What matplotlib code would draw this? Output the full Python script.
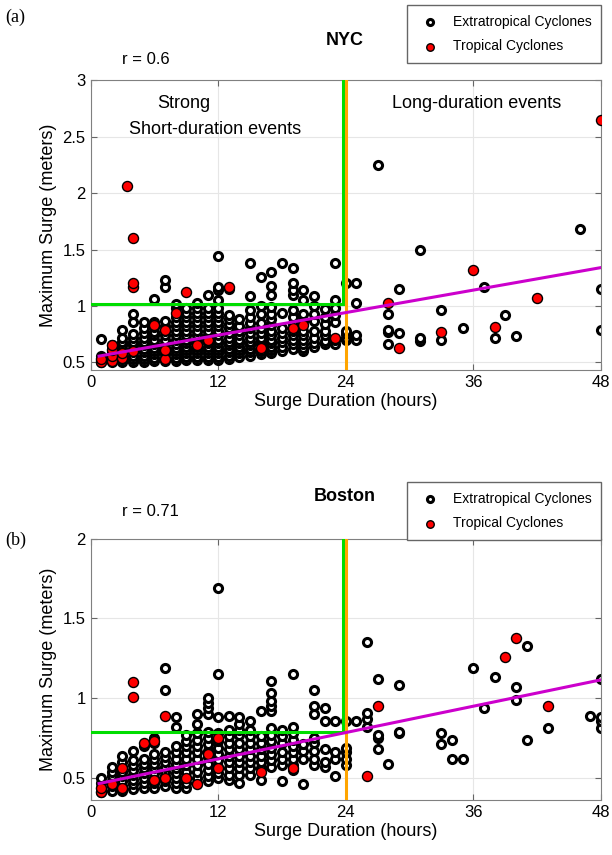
import matplotlib.pyplot as plt

plt.rcParams['font.family'] = ['Liberation Sans', 'DejaVu Sans']

# NYC: surge duration (hours) -> maximum surge (m)
nyc_etc = {
    1: [0.50, 0.52, 0.54, 0.56, 0.71],
    2: [0.50, 0.53, 0.56, 0.59, 0.62, 0.65],
    3: [0.50, 0.53, 0.56, 0.59, 0.62, 0.65, 0.68, 0.72, 0.79],
    4: [0.50, 0.53, 0.56, 0.59, 0.62, 0.65, 0.68, 0.72, 0.75, 0.86, 0.93],
    5: [0.50, 0.53, 0.56, 0.59, 0.62, 0.65, 0.68, 0.72, 0.76, 0.80, 0.86],
    6: [0.51, 0.54, 0.57, 0.60, 0.63, 0.66, 0.70, 0.74, 0.77, 0.81, 0.86, 1.06],
    7: [0.51, 0.54, 0.57, 0.60, 0.63, 0.66, 0.70, 0.74, 0.78, 0.82, 0.87, 1.17, 1.23],
    8: [0.51, 0.54, 0.57, 0.60, 0.63, 0.66, 0.70, 0.74, 0.78, 0.82, 0.86, 0.90, 0.98, 1.02],
    9: [0.52, 0.55, 0.58, 0.61, 0.64, 0.67, 0.70, 0.74, 0.78, 0.82, 0.86, 0.90, 0.94, 0.98],
    10: [0.52, 0.55, 0.58, 0.61, 0.64, 0.67, 0.70, 0.74, 0.78, 0.82, 0.86, 0.90, 0.94, 0.98, 1.03],
    11: [0.52, 0.55, 0.58, 0.61, 0.64, 0.67, 0.70, 0.74, 0.78, 0.82, 0.86, 0.90, 0.94, 0.98, 1.10],
    12: [0.52, 0.55, 0.58, 0.61, 0.64, 0.67, 0.70, 0.74, 0.78, 0.82, 0.86, 0.90, 0.94, 0.98,
         1.05, 1.14, 1.17, 1.44],
    13: [0.53, 0.56, 0.59, 0.62, 0.65, 0.68, 0.72, 0.76, 0.80, 0.84, 0.88, 0.92, 1.15],
    14: [0.55, 0.58, 0.61, 0.64, 0.67, 0.70, 0.74, 0.78, 0.82, 0.88],
    15: [0.56, 0.59, 0.62, 0.65, 0.68, 0.72, 0.76, 0.80, 0.85, 0.90, 0.96, 1.09, 1.38],
    16: [0.57, 0.60, 0.66, 0.69, 0.72, 0.76, 0.80, 0.85, 0.93, 1.00, 1.26],
    17: [0.58, 0.61, 0.64, 0.67, 0.70, 0.74, 0.78, 0.83, 0.88, 0.93, 0.99, 1.10, 1.18, 1.30],
    18: [0.60, 0.64, 0.68, 0.72, 0.76, 0.80, 0.94, 1.38],
    19: [0.62, 0.66, 0.70, 0.74, 0.78, 0.84, 0.90, 0.96, 1.10, 1.14, 1.20, 1.34],
    20: [0.60, 0.63, 0.66, 0.70, 0.74, 0.78, 0.87, 0.93, 1.05, 1.14],
    21: [0.64, 0.67, 0.72, 0.78, 0.87, 0.93, 1.00, 1.09],
    22: [0.66, 0.69, 0.74, 0.78, 0.84, 0.90, 0.97],
    23: [0.66, 0.70, 0.86, 0.92, 0.98, 1.05, 1.38],
    24: [0.70, 0.72, 0.75, 0.78, 1.20],
    25: [0.70, 0.74, 1.03, 1.20],
    27: [2.25],
    28: [0.66, 0.77, 0.79, 0.93],
    29: [0.76, 1.15],
    31: [0.69, 0.72, 1.50],
    33: [0.70, 0.96],
    35: [0.80],
    37: [1.17],
    38: [0.72],
    39: [0.92],
    40: [0.73],
    46: [1.68],
    48: [0.79, 1.15],
}
nyc_tc = {
    1: [0.50, 0.53],
    2: [0.51, 0.56, 0.61, 0.65],
    3: [0.54, 0.58],
    3.4: [2.06],
    4: [0.60, 1.17, 1.20, 1.60],
    6: [0.83],
    7: [0.53, 0.61, 0.79],
    8: [0.94],
    9: [1.12],
    10: [0.65],
    11: [0.70],
    13: [1.17],
    16: [0.63],
    19: [0.80],
    20: [0.83],
    23: [0.72],
    28: [1.03],
    29: [0.63],
    33: [0.77],
    36: [1.32],
    38: [0.81],
    42: [1.07],
    48: [2.65],
}
nyc_fit_hours = [0.8, 48]
nyc_fit_surge = [0.555, 1.34]
nyc_strong_surge = 1.02

# Boston
bos_etc = {
    1: [0.41, 0.44, 0.47, 0.50],
    2: [0.42, 0.45, 0.48, 0.51, 0.54, 0.57],
    3: [0.42, 0.45, 0.48, 0.51, 0.54, 0.57, 0.60, 0.64],
    4: [0.43, 0.46, 0.49, 0.52, 0.55, 0.58, 0.61, 0.67],
    5: [0.44, 0.47, 0.50, 0.53, 0.56, 0.59, 0.62, 0.70],
    6: [0.44, 0.47, 0.50, 0.53, 0.56, 0.59, 0.62, 0.65, 0.72, 0.75],
    7: [0.45, 0.48, 0.51, 0.54, 0.57, 0.60, 0.63, 0.66, 1.05, 1.19],
    8: [0.44, 0.47, 0.50, 0.53, 0.56, 0.59, 0.62, 0.66, 0.70, 0.82, 0.88],
    9: [0.44, 0.47, 0.50, 0.54, 0.58, 0.62, 0.66, 0.70, 0.73, 0.77],
    10: [0.47, 0.50, 0.54, 0.58, 0.62, 0.66, 0.70, 0.74, 0.78, 0.84, 0.90],
    11: [0.48, 0.51, 0.55, 0.59, 0.63, 0.67, 0.71, 0.75, 0.79, 0.90, 0.94, 0.97, 1.00],
    12: [0.50, 0.53, 0.57, 0.61, 0.65, 0.69, 0.73, 0.78, 0.88, 1.15, 1.69],
    13: [0.49, 0.52, 0.56, 0.60, 0.64, 0.68, 0.72, 0.76, 0.80, 0.89],
    14: [0.47, 0.52, 0.56, 0.60, 0.64, 0.68, 0.72, 0.77, 0.80, 0.84, 0.88],
    15: [0.52, 0.56, 0.60, 0.64, 0.68, 0.72, 0.76, 0.80, 0.86],
    16: [0.49, 0.56, 0.60, 0.64, 0.68, 0.72, 0.76, 0.92],
    17: [0.57, 0.61, 0.65, 0.69, 0.73, 0.77, 0.81, 0.92, 0.95, 0.98, 1.03, 1.11],
    18: [0.48, 0.58, 0.62, 0.66, 0.72, 0.76, 0.80],
    19: [0.55, 0.58, 0.62, 0.66, 0.70, 0.74, 0.78, 0.82, 1.15],
    20: [0.46, 0.62, 0.67, 0.71],
    21: [0.58, 0.62, 0.67, 0.72, 0.75, 0.90, 0.95, 1.05],
    22: [0.57, 0.60, 0.68, 0.86, 0.94],
    23: [0.51, 0.62, 0.66, 0.86],
    24: [0.58, 0.62, 0.66, 0.69, 0.86],
    25: [0.86],
    26: [0.82, 0.87, 0.91, 1.35],
    27: [0.68, 0.75, 0.77, 1.12],
    28: [0.59],
    29: [0.78, 0.79, 1.08],
    33: [0.71, 0.78],
    34: [0.62, 0.74],
    35: [0.62],
    36: [1.19],
    37: [0.94],
    38: [1.13],
    40: [0.99, 1.07],
    41: [0.74, 1.33],
    43: [0.81],
    47: [0.89],
    48: [0.81, 0.86, 0.88, 1.12],
}
bos_tc = {
    1: [0.41, 0.44],
    2: [0.46],
    3: [0.44, 0.56],
    4: [1.01, 1.10],
    5: [0.72],
    6: [0.49, 0.73],
    7: [0.50, 0.89],
    9: [0.50],
    10: [0.46],
    11: [0.65],
    12: [0.56, 0.75],
    16: [0.54],
    19: [0.56],
    26: [0.51],
    27: [0.95],
    39: [1.26],
    40: [1.38],
    43: [0.95],
}
bos_fit_hours = [0.8, 48]
bos_fit_surge = [0.465, 1.115]
bos_strong_surge = 0.79

long_duration = 24


def flat(d):
    xs = [h for h, vals in d.items() for v in vals]
    ys = [v for h, vals in d.items() for v in vals]
    return xs, ys


def panel(ax, etc, tc, fit_h, fit_s, strong, ylim, yticks, ylabels):
    ax.grid(True, color='0.9', linewidth=0.8, zorder=0)
    ex, ey = flat(etc)
    tx, ty = flat(tc)
    ax.scatter(ex, ey, s=34, facecolors='white', edgecolors='black',
               linewidths=2.2, zorder=2, label='Extratropical Cyclones')
    ax.scatter(tx, ty, s=52, facecolors='red', edgecolors='black',
               linewidths=1.0, zorder=3, label='Tropical Cyclones')
    ax.plot([0, long_duration - 0.3], [strong, strong], color='#00dd00', lw=2.2, zorder=4)
    ax.plot([long_duration - 0.3] * 2, [strong, ylim[1]], color='#00dd00', lw=2.2, zorder=4)
    ax.axvline(long_duration, color='#ffa500', lw=2.2, zorder=4)
    ax.plot(fit_h, fit_s, color='#cc00cc', lw=2.2, zorder=5)
    ax.set_xlim(0, 48)
    ax.set_ylim(*ylim)
    ax.set_xticks([0, 12, 24, 36, 48])
    ax.set_yticks(yticks)
    ax.set_yticklabels(ylabels)
    ax.tick_params(direction='in', top=True, right=True, labelsize=12,
                   color='0.4', length=4)
    for sp in ax.spines.values():
        sp.set_color('0.5')
    ax.set_xlabel('Surge Duration (hours)', fontsize=13, labelpad=2)
    ax.set_ylabel('Maximum Surge (meters)', fontsize=13, labelpad=4)


def add_legend(ax, top):
    ax.legend(loc='upper right', bbox_to_anchor=(0.982, top), bbox_transform=fig.transFigure,
              borderaxespad=0, fontsize=10, frameon=True, fancybox=False, edgecolor='0.4',
              framealpha=1, handletextpad=0.6, borderpad=0.7, labelspacing=0.75,
              markerscale=0.75)


fig = plt.figure(figsize=(6.12, 8.55), dpi=100)

ax1 = fig.add_axes([0.148, 0.567, 0.834, 0.339])
panel(ax1, nyc_etc, nyc_tc, nyc_fit_hours, nyc_fit_surge, nyc_strong_surge,
      (0.43, 3), [0.5, 1, 1.5, 2, 2.5, 3], ['0.5', '1', '1.5', '2', '2.5', '3'])
ax1.text(0.182, 0.92, 'Strong', transform=ax1.transAxes, ha='center', va='center', fontsize=13)
ax1.text(0.243, 0.83, 'Short-duration events', transform=ax1.transAxes, ha='center',
         va='center', fontsize=13)
ax1.text(0.757, 0.92, 'Long-duration events', transform=ax1.transAxes, ha='center',
         va='center', fontsize=13)
fig.text(0.564, 0.953, 'NYC', ha='center', va='center', fontsize=13, fontweight='bold')
fig.text(0.199, 0.930, 'r = 0.6', ha='left', va='center', fontsize=12)
fig.text(0.025, 0.980, '(a)', ha='center', va='center', fontsize=13, family='Liberation Serif')
add_legend(ax1, 0.994)

ax2 = fig.add_axes([0.148, 0.064, 0.834, 0.306])
panel(ax2, bos_etc, bos_tc, bos_fit_hours, bos_fit_surge, bos_strong_surge,
      (0.36, 2), [0.5, 1, 1.5, 2], ['0.5', '1', '1.5', '2'])
fig.text(0.564, 0.419, 'Boston', ha='center', va='center', fontsize=13, fontweight='bold')
fig.text(0.199, 0.402, 'r = 0.71', ha='left', va='center', fontsize=12)
fig.text(0.025, 0.368, '(b)', ha='center', va='center', fontsize=13, family='Liberation Serif')
add_legend(ax2, 0.436)

fig.savefig('out.png', dpi=100)
